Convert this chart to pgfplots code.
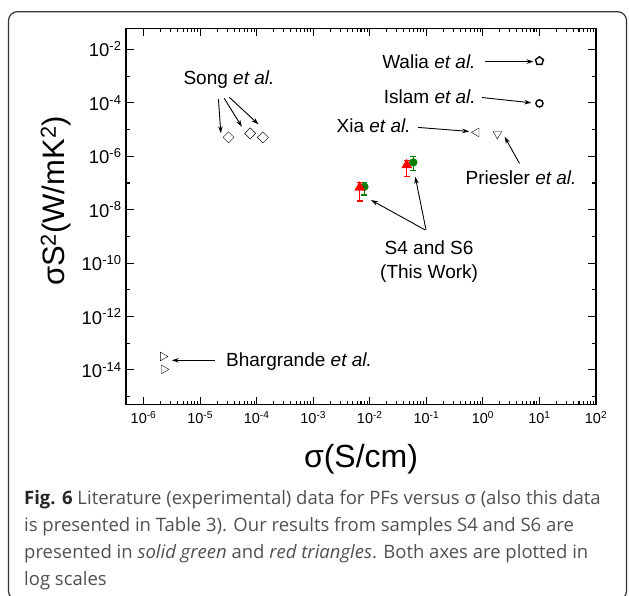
\documentclass[border=0pt]{standalone}
\usepackage{fontspec}
\setmainfont{Liberation Sans}
\newfontfamily\capfont{Open Sans}
\usepackage{pgfplots}
\pgfplotsset{compat=1.18}
\usetikzlibrary{arrows.meta}
\definecolor{capgray}{HTML}{505050}
\definecolor{boxgray}{HTML}{333333}
\definecolor{pgreen}{HTML}{008000}
\definecolor{pred}{HTML}{FF0000}
\newcommand\fs{\fontsize{19bp}{24bp}\selectfont}
\newcommand\ea{\textit{et al.}}
\tikzset{ann/.style={-{Stealth[length=7bp,width=4.5bp]}, line width=0.9bp, black}}
\begin{document}
\begin{tikzpicture}[x=1bp,y=1bp]
\useasboundingbox (0,0) rectangle (629,596);
\draw[boxgray, line width=1.2bp, rounded corners=9bp] (8.5,-4) rectangle (626.5,584.3);
\begin{axis}[
  at={(126bp,191.3bp)}, anchor=south west,
  scale only axis, width=470bp, height=376.4bp,
  xmode=log, ymode=log,
  xmin=4.9e-7, xmax=100, ymin=5.0e-16, ymax=6.17e-2,
  axis line style={line width=1.2bp},
  every tick/.style={black, line width=1.1bp},
  major tick length=8bp, minor tick length=4bp,
  xtick={1e-6,1e-5,1e-4,1e-3,1e-2,1e-1,1,10,100},
  xticklabels={10\textsuperscript{-6},10\textsuperscript{-5},10\textsuperscript{-4},10\textsuperscript{-3},10\textsuperscript{-2},10\textsuperscript{-1},10\textsuperscript{0},10\textsuperscript{1},10\textsuperscript{2}},
  minor xtick={},
  ytick={1e-14,1e-12,1e-10,1e-8,1e-6,1e-4,1e-2},
  yticklabels={10\textsuperscript{-14},10\textsuperscript{-12},10\textsuperscript{-10},10\textsuperscript{-8},10\textsuperscript{-6},10\textsuperscript{-4},10\textsuperscript{-2}},
  minor ytick={1e-15,1e-13,1e-11,1e-9,1e-7,1e-5,1e-3},
  xticklabel style={font=\fontsize{14.5bp}{16bp}\selectfont, yshift=-3bp},
  yticklabel style={font=\fontsize{18.5bp}{20bp}\selectfont, xshift=-1bp},
  clip=false,
  open/.style={only marks, black, mark options={line width=1.4bp, black, fill=white}},
]
% Walia
\addplot[open, mark=pentagon, mark size=4.2bp] coordinates {(10,3.7e-3)};
% Islam
\addplot[open, mark=o, mark size=3.6bp] coordinates {(10,9.5e-5)};
% Xia
\addplot[open, mark=triangle, mark size=5bp, mark options={rotate=90}] coordinates {(0.77,7.8e-6)};
% Priesler
\addplot[open, mark=triangle, mark size=5bp, mark options={rotate=180}] coordinates {(1.8,6.8e-6)};
% Song
\addplot[open, mark=square, mark size=3.9bp, mark options={rotate=45}] coordinates {(3.18e-5,5.09e-6) (7.67e-5,7.18e-6) (1.29e-4,5.09e-6)};
% Bhargrande
\addplot[open, mark=triangle, mark size=5bp, mark options={rotate=-90}] coordinates {(2.2e-6,3.2e-14) (2.3e-6,1.05e-14)};
% This work: green (S6)
\addplot[only marks, pgreen, mark=*, mark size=3.9bp,
  error bars/.cd, y dir=both, y explicit,
  error bar style={line width=1.2bp, pgreen},
  error mark options={rotate=90, mark size=3bp, line width=1.2bp, pgreen}]
  coordinates {(8.04e-3,7.2e-8) += (0,3.0e-8) -= (0,3.68e-8)
               (0.0589,5.9e-7) += (0,3.65e-7) -= (0,3.04e-7)};
% This work: red (S4)
\addplot[only marks, pred, mark=triangle*, mark size=5.8bp,
  error bars/.cd, y dir=both, y explicit,
  error bar style={line width=1.2bp, pred},
  error mark options={rotate=90, mark size=3bp, line width=1.2bp, pred}]
  coordinates {(6.65e-3,6.84e-8) += (0,3.6e-8) -= (0,4.74e-8)
               (0.0451,4.68e-7) += (0,2.4e-7) -= (0,2.97e-7)};
% annotations
\node[font=\fs] at (axis cs:3.24e-5,7.6e-4) {Song \ea};
\draw[ann] (axis cs:2.11e-5,1.38e-4) -- (axis cs:2.33e-5,7.2e-6);
\draw[ann] (axis cs:2.67e-5,1.47e-4) -- (axis cs:5.48e-5,1.27e-5);
\draw[ann] (axis cs:3.30e-5,1.60e-4) -- (axis cs:1.08e-4,1.56e-5);
\node[font=\fs] at (axis cs:0.111,3.47e-3) {Walia \ea};
\draw[ann] (axis cs:1.107,3.5e-3) -- (axis cs:7.83,3.5e-3);
\node[font=\fs] at (axis cs:0.115,1.70e-4) {Islam \ea};
\draw[ann] (axis cs:0.968,1.58e-4) -- (axis cs:7.21,1.0e-4);
\node[font=\fs] at (axis cs:0.0117,1.35e-5) {Xia \ea};
\draw[ann] (axis cs:0.0713,1.20e-5) -- (axis cs:0.575,8.5e-6);
\node[font=\fs] at (axis cs:4.73,1.58e-7) {Priesler \ea};
\draw[ann] (axis cs:4.44,5.37e-7) -- (axis cs:2.42,5.37e-6);
\node[font=\fs, align=center] at (axis cs:0.112,1.17e-10) {S4 and S6\\(This Work)};
\draw[ann] (axis cs:0.0955,1.74e-9) -- (axis cs:0.01054,2.29e-8);
\draw[ann] (axis cs:0.0989,1.74e-9) -- (axis cs:0.0637,1.70e-7);
\node[font=\fs] at (axis cs:5.62e-4,2.14e-14) {Bhargrande \ea};
\draw[ann] (axis cs:1.82e-5,2.29e-14) -- (axis cs:3.16e-6,2.29e-14);
\end{axis}
\node[rotate=90, font=\fontsize{31bp}{36bp}\selectfont] at (56,395) {σS\textsuperscript{2}(W/mK\textsuperscript{2})};
\node[font=\fontsize{32bp}{36bp}\selectfont] at (361,137) {σ(S/cm)};
\begin{scope}[every node/.style={anchor=base west, inner sep=0pt, text=capgray, font=\capfont\fontsize{18.5bp}{22bp}\selectfont}]
\node at (24,91) {\textbf{\color{black!85}Fig. 6} Literature (experimental) data for PFs versus σ (also this data};
\node at (24,64.3) {is presented in Table 3). Our results from samples S4 and S6 are};
\node at (24,37.6) {presented in \textit{solid green} and \textit{red triangles}. Both axes are plotted in};
\node at (24,10.9) {log scales};
\end{scope}
\end{tikzpicture}
\end{document}
